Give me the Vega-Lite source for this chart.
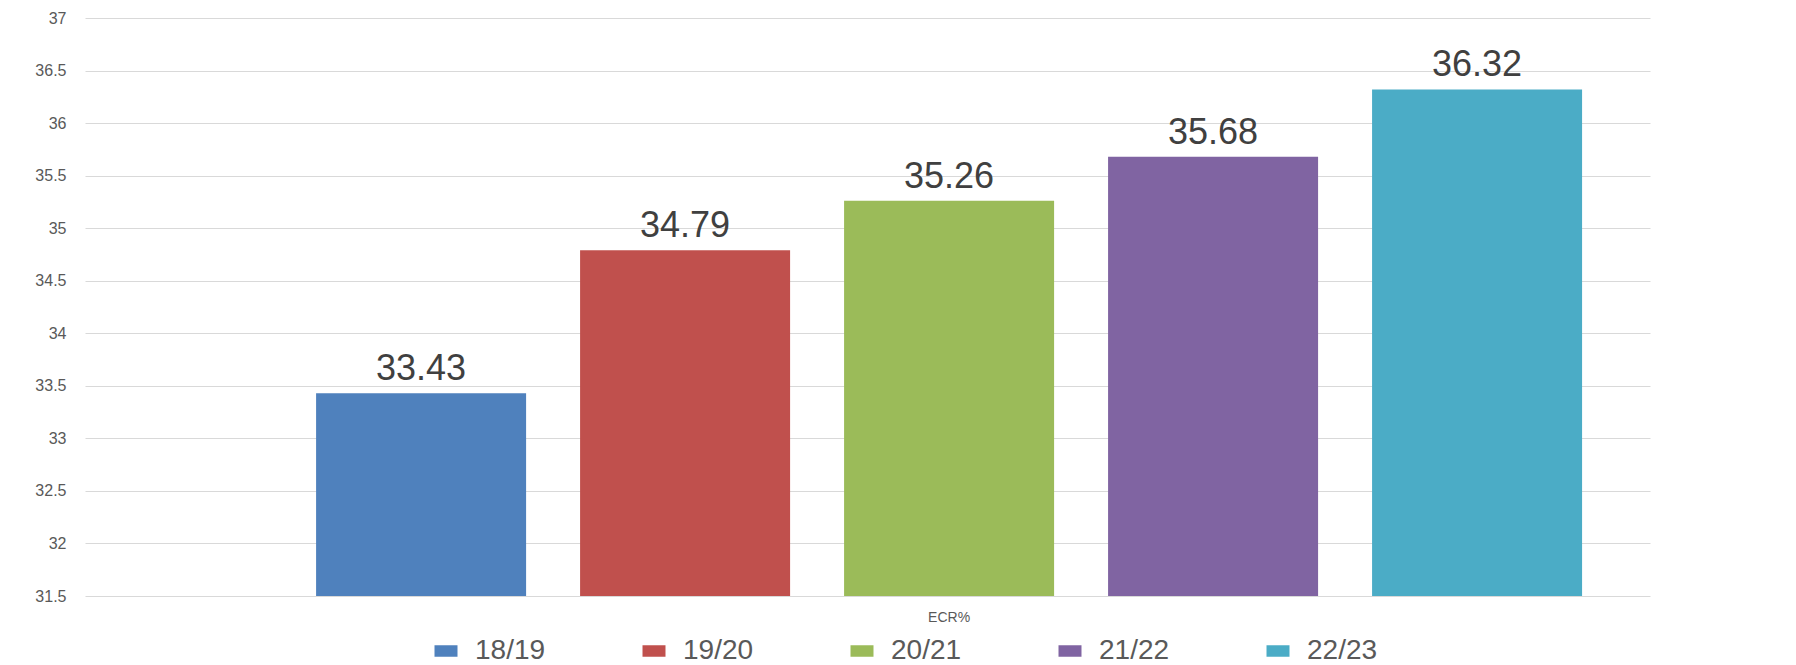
{
  "$schema": "https://vega.github.io/schema/vega-lite/v6.json",
  "width": 1565,
  "height": 578,
  "autosize": "none",
  "padding": {"left": 85, "top": 18, "right": 146, "bottom": 69},
  "background": "white",
  "data": {
    "values": [
      {"group": "ECR%", "season": "18/19", "value": 33.43},
      {"group": "ECR%", "season": "19/20", "value": 34.79},
      {"group": "ECR%", "season": "20/21", "value": 35.26},
      {"group": "ECR%", "season": "21/22", "value": 35.68},
      {"group": "ECR%", "season": "22/23", "value": 36.32}
    ]
  },
  "encoding": {
    "x": {
      "field": "group",
      "type": "nominal",
      "scale": {"paddingInner": 0, "paddingOuter": 0.0928, "align": 0.833},
      "axis": {
        "title": null,
        "labelAngle": 0,
        "domain": false,
        "ticks": false,
        "labelFontSize": 14,
        "labelColor": "#595959",
        "labelFont": "Liberation Sans",
        "labelPadding": 14
      }
    },
    "xOffset": {
      "field": "season",
      "type": "nominal",
      "scale": {"paddingInner": 0.2045, "paddingOuter": 0.1023}
    },
    "y": {
      "field": "value",
      "type": "quantitative",
      "scale": {"domain": [31.5, 37], "zero": false, "nice": false},
      "axis": {
        "title": null,
        "values": [31.5, 32, 32.5, 33, 33.5, 34, 34.5, 35, 35.5, 36, 36.5, 37],
        "format": "~g",
        "domain": false,
        "ticks": false,
        "grid": true,
        "gridColor": "#d9d9d9",
        "gridWidth": 1,
        "labelFontSize": 16,
        "labelColor": "#595959",
        "labelFont": "Liberation Sans",
        "labelPadding": 19
      }
    }
  },
  "layer": [
    {
      "mark": {"type": "bar"},
      "encoding": {
        "y2": {"datum": 31.5},
        "color": {
          "field": "season",
          "type": "nominal",
          "scale": {"range": ["#4F81BD", "#C0504D", "#9BBB59", "#8064A2", "#4BACC6"]},
          "legend": {
            "title": null,
            "orient": "none",
            "direction": "horizontal",
            "legendX": 347,
            "legendY": 619,
            "padding": 0,
            "symbolType": "M-1,-0.5H1V0.5H-1Z",
            "symbolSize": 529,
            "symbolStrokeWidth": 0,
            "labelFontSize": 28,
            "labelColor": "#595959",
            "labelFont": "Liberation Sans",
            "labelOffset": 15,
            "columnPadding": 94
          }
        }
      }
    },
    {
      "mark": {
        "type": "text",
        "baseline": "alphabetic",
        "dy": -13,
        "fontSize": 36,
        "font": "Liberation Sans",
        "color": "#404040"
      },
      "encoding": {
        "text": {"field": "value", "type": "quantitative", "format": ".2f"}
      }
    }
  ],
  "config": {"view": {"stroke": null}}
}
